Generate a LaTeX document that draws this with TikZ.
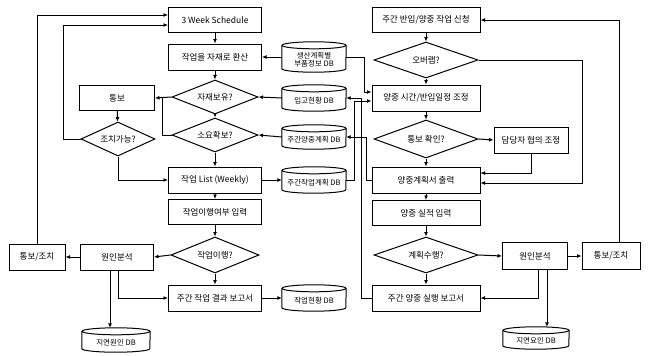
\documentclass[tikz,border=0pt]{standalone}
\usepackage{fontspec}
\setmainfont{Noto Sans CJK KR}
\usetikzlibrary{shapes.geometric,arrows.meta}
\newcommand{\dbcyl}[6]{%
  \node[inner sep=0pt, minimum width=#4pt, minimum height=#5pt] (#1) at (#2,-#3) {};
  \draw[ln] ([yshift=-3.5pt]#1.north west) -- ([yshift=3.5pt]#1.south west) arc[start angle=180,end angle=360,x radius=#4pt/2,y radius=3.5pt] -- ([yshift=-3.5pt]#1.north east);
  \draw[ln] ([yshift=-3.5pt]#1.north) ellipse[x radius=#4pt/2, y radius=3.5pt];
  \node[dbn] (#1t) at ([yshift=-2.5pt]#1.center) {#6};
}
\begin{document}
\begin{tikzpicture}[x=1pt,y=1pt,
  box/.style={draw, line width=1pt, minimum height=25pt, inner sep=1pt, font=\fontsize{8.5}{9.5}\selectfont},
  dia/.style={draw, line width=1pt, diamond, aspect=2.5, inner sep=0pt, font=\fontsize{8.5}{9.5}\selectfont},
  dbn/.style={inner sep=0pt, align=center, font=\fontsize{7.5}{8.5}\selectfont},
  arr/.style={line width=1pt, -{Latex[length=4.5pt,width=4pt]}},
  ln/.style={line width=1pt}]
\useasboundingbox (0,0) rectangle (651,-356);

% left column
\node[box, minimum width=93pt] (s3w) at (215,-20) {3 Week Schedule};
\node[box, minimum width=93pt, minimum height=26pt] (conv) at (215,-57) {작업을 자재로 환산};
\node[dia, minimum width=86pt, minimum height=34pt] (dstock) at (215,-97) {자재보유?};
\node[dia, minimum width=86pt, minimum height=34pt] (dreq) at (215,-135) {소요확보?};
\node[box, minimum width=93pt, minimum height=26pt] (wlist) at (215,-180) {작업 List (Weekly)};
\node[box, minimum width=93pt] (input) at (215,-212) {작업이행여부 입력};
\node[dia, minimum width=88pt, minimum height=36pt] (dexec) at (215,-255) {작업이행?};
\node[box, minimum width=93pt, minimum height=26pt] (wrep) at (215,-298) {주간 작업 결과 보고서};

% far left
\node[box, minimum width=75pt] (notify) at (117,-98) {통보};
\node[dia, minimum width=74pt, minimum height=34pt] (dact) at (118,-139) {조치가능?};
\node[box, minimum width=73pt, minimum height=26pt] (lcause) at (117,-257) {원인분석};
\node[box, minimum width=56pt, minimum height=26pt] (lnotify) at (37,-257) {통보/조치};
\dbcyl{ldb}{116}{340}{68}{24}{지연원인 DB}

% middle DBs
\dbcyl{db1}{314}{57}{64}{30}{생산계획별\\부품정보 DB}
\dbcyl{db2}{314}{98}{64}{26}{입고현황 DB}
\dbcyl{db3}{314}{137}{64}{24}{주간양중계획 DB}
\dbcyl{db4}{314}{180}{64}{26}{주간작업계획 DB}
\dbcyl{db5}{314}{298}{64}{26}{작업현황 DB}

% right column
\node[box, minimum width=108pt] (req) at (426,-20) {주간 반입/양중 작업 신청};
\node[dia, minimum width=104pt, minimum height=36pt] (dover) at (426,-60) {오버랩?};
\node[box, minimum width=108pt, minimum height=26pt] (adj) at (426,-98) {양중 시간/반입일정 조정};
\node[dia, minimum width=104pt, minimum height=38pt] (dconf) at (426,-139) {통보 확인?};
\node[box, minimum width=74pt, minimum height=26pt] (mgr) at (531,-140) {담당자 협의 조정};
\node[box, minimum width=108pt, minimum height=26pt] (print) at (426,-180) {양중계획서 출력};
\node[box, minimum width=108pt] (rec) at (426,-213) {양중 실적 입력};
\node[dia, minimum width=104pt, minimum height=36pt] (dplan) at (426,-255) {계획수행?};
\node[box, minimum width=108pt, minimum height=26pt] (lrep) at (426,-298) {주간 양중 실행 보고서};
\node[box, minimum width=65pt, minimum height=27pt] (rcause) at (535,-256) {원인분석};
\node[box, minimum width=58pt, minimum height=27pt] (rnotify) at (611,-256) {통보/조치};
\dbcyl{rdb}{536}{338}{66}{22}{지연요인 DB}

% left column flow
\draw[arr] (s3w) -- (conv);
\draw[arr] (conv) -- (dstock);
\draw[arr] (dstock) -- (dreq);
\draw[arr] (dreq) -- (wlist);
\draw[arr] (wlist) -- (input);
\draw[arr] (input) -- (dexec);
\draw[arr] (dexec) -- (wrep);

\draw[arr] (db1.west) -- (conv.east);
\draw[arr] (db2.west) -- (dstock.east);
\draw[arr] (db3.west) -- (dreq.east);
\draw[arr] (wlist.east) -- (db4.west);
\draw[arr] (wrep.east) -- (db5.west);

\draw[arr] (dstock.west) -- (notify.east);
\draw[ln] (dreq.west) -| ([xshift=7pt]notify.east);
\draw[arr] (notify) -- (dact);
\draw[arr] (dact.south) |- (wlist.west);
\draw[arr] (dact.west) -| ([xshift=-105pt,yshift=-5pt]s3w.west) -- ([yshift=-5pt]s3w.west);
\draw[arr] (dexec.west) -- (lcause.east);
\draw[arr] (lcause.west) -- (lnotify.east);
\draw[arr] (lnotify.north) |- ([yshift=5pt]s3w.west);
\draw[arr] ([xshift=-7pt]lcause.south) -- ([xshift=-6pt]ldb.north);
\draw[arr] ([xshift=1pt]lcause.south) |- (wrep.west);

% right column flow
\draw[arr] (req) -- (dover);
\draw[arr] (dover) -- (adj);
\draw[arr] (adj) -- (dconf);
\draw[arr] (dconf) -- (print);
\draw[arr] (print) -- (rec);
\draw[arr] (rec) -- (dplan);
\draw[arr] (dplan) -- (lrep);

\draw[arr] (dover.east) -| ([xshift=102pt,yshift=-3pt]print.east) -- ([yshift=-3pt]print.east);
\draw[arr] (dconf.east) -- (mgr.west);
\draw[arr] (mgr.south) |- ([yshift=7pt]print.east);
\draw[arr] (dplan.east) -- (rcause.west);
\draw[arr] (rcause.east) -- (rnotify.west);
\draw[arr] ([xshift=8pt]rnotify.north) |- (req.east);
\draw[arr] ([xshift=3pt]rcause.south) |- (lrep.east);
\draw[arr] ([xshift=12pt]rcause.south) -- ([xshift=11pt]rdb.north);

% middle connectors
\draw[arr] (db1.east) -| ([xshift=-7pt,yshift=6pt]adj.west) -- ([yshift=6pt]adj.west);
\draw[arr] (db4.east) -| ([xshift=-17pt,yshift=-3pt]adj.west) -- ([yshift=-3pt]adj.west);
\draw[arr] (lrep.west) -| ([xshift=15pt]db2.east) -- (db2.east);
\draw[arr] (print.west) -| ([xshift=20pt]db3.east) -- (db3.east);
\end{tikzpicture}
\end{document}
